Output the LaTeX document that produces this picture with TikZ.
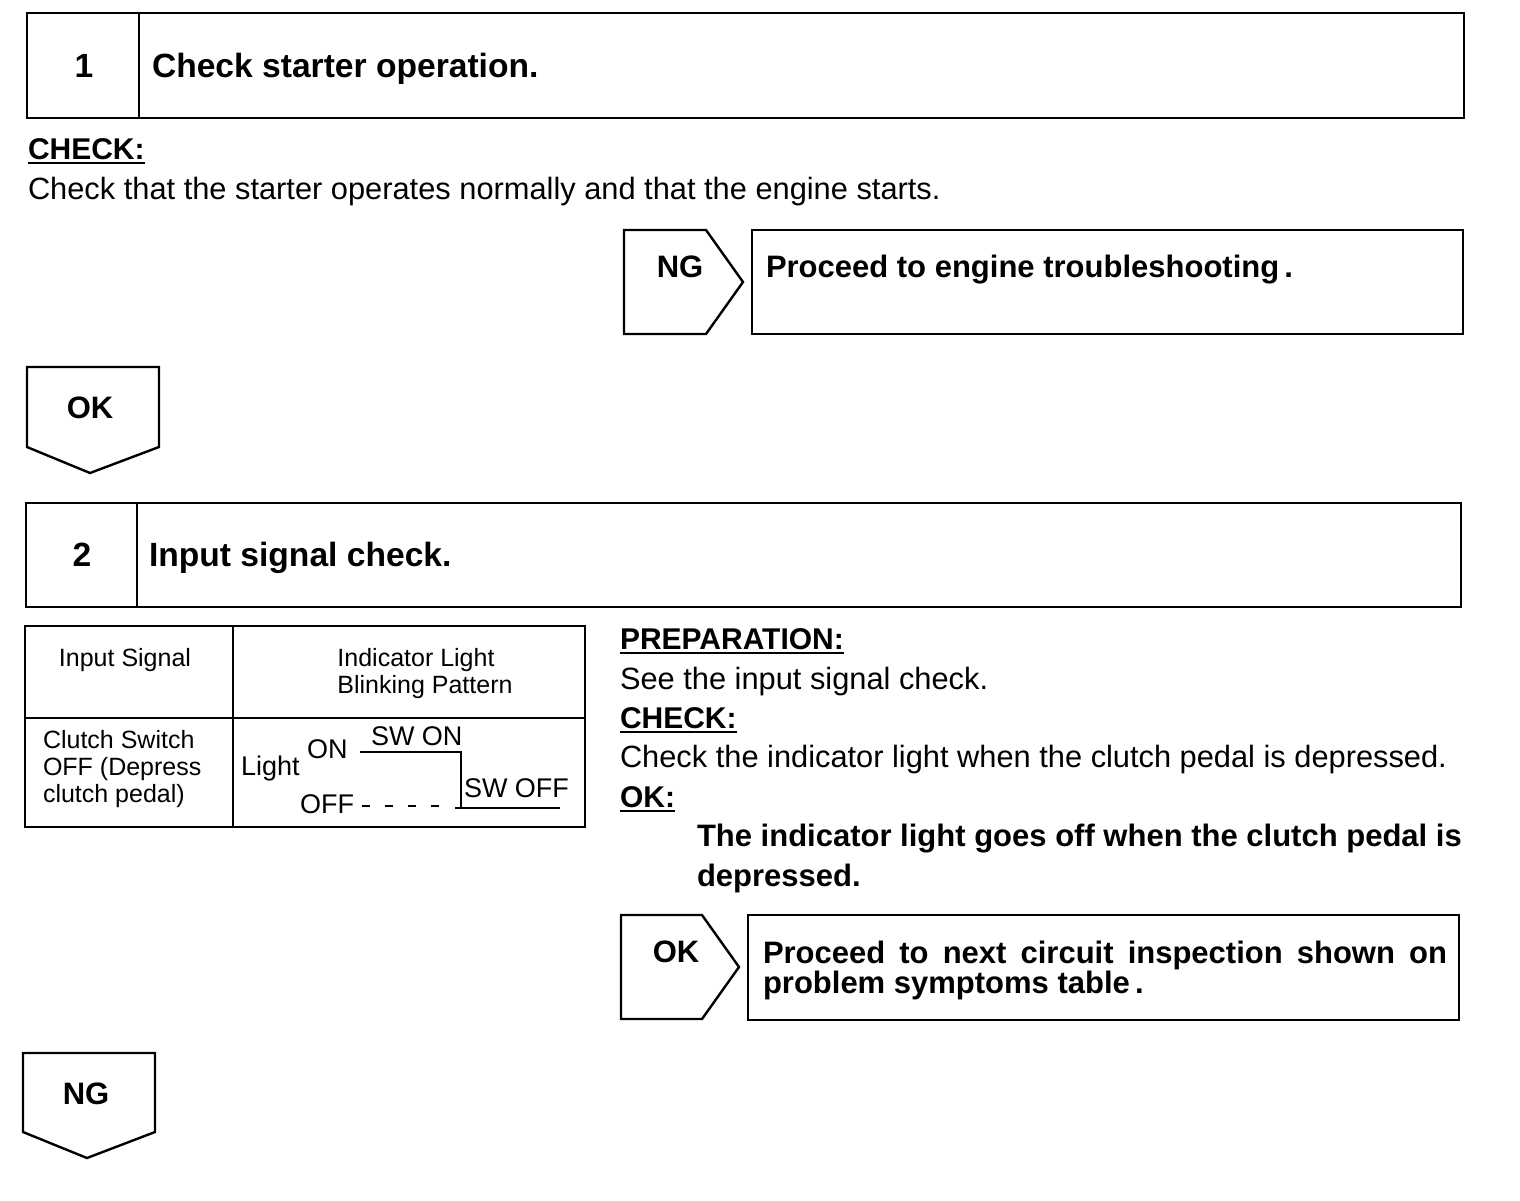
\documentclass[tikz,border=0pt]{standalone}
\usepackage{fontspec}
\setmainfont{Liberation Sans}
\usetikzlibrary{positioning}
\newcommand{\Ul}[1]{\setbox0\hbox{#1}\rlap{\vrule height -1.6pt depth 2.7pt width \wd0}\box0}

\begin{document}
\begin{tikzpicture}[x=0.5pt, y=-0.5pt,
  every node/.style={inner sep=0pt, outer sep=0pt},
  frame/.style={draw, line width=1.2pt},
  thin/.style={draw, line width=1pt},
  head/.style={font=\fontsize{16.8}{18}\selectfont\bfseries, anchor=base west},
  num/.style={font=\fontsize{16.8}{18}\selectfont\bfseries, anchor=base},
  tag/.style={font=\fontsize{15.5}{18}\selectfont\bfseries, anchor=base},
  txt/.style={font=\fontsize{15.4}{18}\selectfont, anchor=base west},
  key/.style={font=\fontsize{15}{18}\selectfont\bfseries, anchor=base west},
  bold/.style={font=\fontsize{15.5}{15}\selectfont\bfseries, anchor=base west, align=left},
  cell/.style={font=\fontsize{12.5}{13.5}\selectfont, anchor=base},
  lbl/.style={font=\fontsize{13.5}{15}\selectfont, anchor=base west}
]
\useasboundingbox (0,0) rectangle (1520,1200);

% step 1
\draw[frame] (27,13) rectangle (1464,118);
\draw[frame] (139,13) -- (139,118);
\node[num]  (n1) at (84,77) {1};
\node[head] (t1) at (152,77) {Check starter operation.};
\node[key]  (c1) at (28,159) {\Ul{CHECK:}};
\node[txt]  (c1t) at (28,199) {Check that the starter operates normally and that the engine starts.};

% NG -> engine troubleshooting
\draw[frame] (624,230) -- (706,230) -- (743,282) -- (706,334) -- (624,334) -- cycle;
\node[tag]  (ng1) at (680,277) {NG};
\draw[frame] (752,230) rectangle (1463,334);
\node[bold] (r1) at (766,277) {Proceed to engine troubleshooting\,.};

% OK down
\draw[frame] (27,367) -- (159,367) -- (159,447) -- (90,473) -- (27,447) -- cycle;
\node[tag]  (ok1) at (90,418) {OK};

% step 2
\draw[frame] (26,503) rectangle (1461,607);
\draw[frame] (137,503) -- (137,607);
\node[num]  (n2) at (82,566) {2};
\node[head] (t2) at (149,566) {Input signal check.};

% table
\draw[thin] (25,626) rectangle (585,827);
\draw[thin] (233,626) -- (233,827);
\draw[thin] (25,718) -- (585,718);
\node[cell] (h1) at (125,666) {Input Signal};
\node[cell] (h2) at (416,666) {Indicator Light};
\node[cell] (h3) at (425,693) {Blinking Pattern};
\node[cell, anchor=base west, align=left] (sig) at (43,802)
  {Clutch Switch\\OFF (Depress\\clutch pedal)};
\node[lbl] (lt)  at (241,775) {Light};
\node[lbl] (on)  at (307,758) {ON};
\node[lbl] (swon) at (371,745) {SW ON};
\node[lbl] (off) at (300,813) {OFF};
\node[lbl] (swoff) at (464,797) {SW OFF};
\draw[line width=1pt] (360,752) -| (461,808);
\draw[line width=1pt] (455,808) -- (560,808);
\draw[line width=1pt, dash pattern=on 4pt off 7.5pt] (362,806) -- (450,806);

% right column
\node[key] (prep) at (620,649) {\Ul{PREPARATION:}};
\node[txt] (prept) at (620,689) {See the input signal check.};
\node[key] (c2) at (620,728) {\Ul{CHECK:}};
\node[txt] (c2t) at (620,767) {Check the indicator light when the clutch pedal is depressed.};
\node[key] (ok) at (620,807) {\Ul{OK:}};
\node[bold, font=\fontsize{15.5}{20}\selectfont\bfseries] (okt) at (697,886)
  {The indicator light goes off when the clutch pedal is\\depressed.};

% OK -> next circuit
\draw[frame] (621,915) -- (702,915) -- (739,967) -- (702,1019) -- (621,1019) -- cycle;
\node[tag]  (ok2) at (676,962) {OK};
\draw[frame] (748,915) rectangle (1459,1020);
\node[bold] (r2) at (763,993)
  {\makebox[342pt][s]{Proceed to next circuit inspection shown on}\\problem symptoms table\,.};

% NG down
\draw[frame] (23,1053) -- (155,1053) -- (155,1132) -- (87,1158) -- (23,1132) -- cycle;
\node[tag]  (ng2) at (86,1104) {NG};
\end{tikzpicture}
\end{document}
